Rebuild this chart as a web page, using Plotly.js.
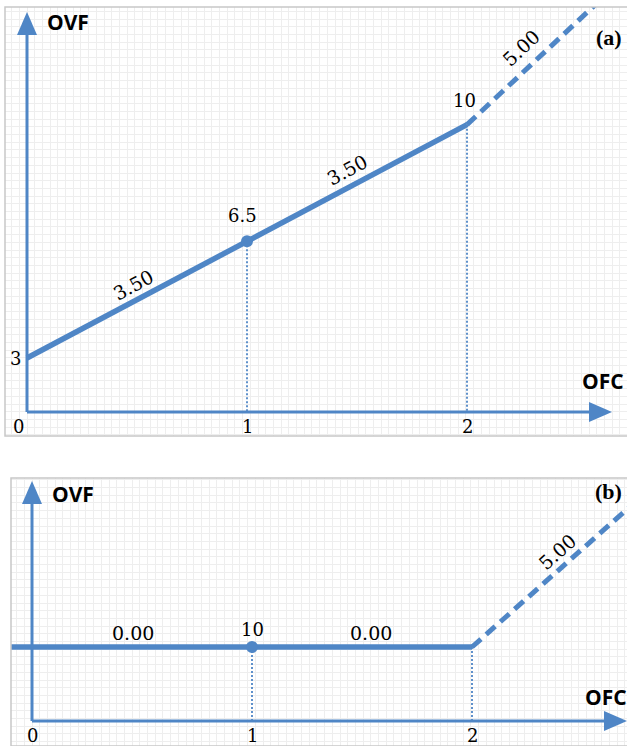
<!DOCTYPE html>
<html>
<head>
<meta charset="utf-8">
<script src="https://cdn.plot.ly/plotly-3.0.1.min.js"></script>
<style>
  html, body { margin: 0; padding: 0; background: #ffffff; }
  #chart { width: 627px; height: 746px; }
</style>
</head>
<body>
<div id="chart"></div>
<script>
// ---------------- DATA ----------------
// Panel (a)
const ofcA = [0, 1, 2];
const ovfA = [3, 6.5, 10];
const slopeLabelsA = ['3.50', '3.50'];
const ofcAext = [2, 2.75];
const ovfAext = [10, 14.63];
const extLabelA = '5.00';
// Panel (b)
const ofcB = [-0.1, 1, 2];
const ovfB = [10, 10, 10];
const slopeLabelsB = ['0.00', '0.00'];
const ofcBext = [2, 2.75];
const ovfBext = [10, 14.4];
const extLabelB = '5.00';
// Axis tick labels
const ofcTicks = [0, 1, 2];
const ofcTickLabels = ['0', '1', '2'];

// ---------------- STYLE ----------------
const W = 627, H = 746;
const BLUE = '#4f86c6';
const GRID = '#eeeeee';
const SERIF = 'DejaVu Serif, serif';
const SANS = 'Open Sans, Liberation Sans, sans-serif';
const PXX = 220;      // px per OFC unit
const PXY = 33.33;    // px per OVF unit
const NUM = 18;
const SLOPE = 19;

// panel geometry in pixels
const A = {left: 5, top: 7, bottom: 436, ox: 27, refY: 3, refPy: 358, baseP: 412, yTipP: 12, xTipP: 612,
  ofcLblX: 603, ofcLblShift: 31, ovfLblX: 45, ovfLblY: 22, pLblY: 37,
  slopeShift: [[-4, 15], [-10, 13]], extT: 0.406, extShift: [-13, 14]};
const B = {left: 11, top: 478, bottom: 746, ox: 32, refY: 10, refPy: 647, baseP: 721, yTipP: 481, xTipP: 627,
  ofcLblX: 606, ofcLblShift: 24, ovfLblX: 50, ovfLblY: 494, pLblY: 491,
  slopeShift: [[-9, 14], [9, 14]], extT: 0.575, extShift: [-10, 11]};

function xRange(p) { return [(p.left - p.ox) / PXX, (W - p.ox) / PXX]; }
function yOf(p, py) { return p.refY + (p.refPy - py) / PXY; }
function yRange(p) { return [yOf(p, p.bottom), yOf(p, p.top)]; }

function axisCfg(range, dtick, domain, anchor) {
  return {
    range: range, domain: domain, anchor: anchor,
    showgrid: true, gridcolor: GRID, gridwidth: 1,
    dtick: dtick, tick0: 0,
    showticklabels: false, ticks: '', zeroline: false, showline: false,
    fixedrange: true
  };
}

const traces = [];
const shapes = [];
const annotations = [];

function buildPanel(p, xr, yr, ofc, ovf, ofcExt, ovfExt, slopeLabels, extLabel, panelLabel, markIdx, isA) {
  const base = yOf(p, p.baseP);
  // dotted verticals
  for (let i = 1; i < ofc.length; i++) {
    if (ofc[i] <= 0) continue;
    traces.push({x: [ofc[i], ofc[i]], y: [ovf[i], base], mode: 'lines', xaxis: xr, yaxis: yr,
      line: {color: BLUE, width: 1.8, dash: '2px,2px'}, hoverinfo: 'skip', showlegend: false});
  }
  // main line
  traces.push({x: ofc, y: ovf, mode: 'lines', xaxis: xr, yaxis: yr,
    line: {color: BLUE, width: 5.5}, hoverinfo: 'skip', showlegend: false});
  // marker at middle point
  traces.push({x: [ofc[markIdx]], y: [ovf[markIdx]], mode: 'markers', xaxis: xr, yaxis: yr,
    marker: {color: BLUE, size: 12}, hoverinfo: 'skip', showlegend: false});
  // dashed extension
  traces.push({x: ofcExt, y: ovfExt, mode: 'lines', xaxis: xr, yaxis: yr,
    line: {color: BLUE, width: 5, dash: '12px,7px'}, hoverinfo: 'skip', showlegend: false});

  // panel border
  shapes.push({type: 'rect', xref: 'paper', yref: 'paper',
    x0: p.left / W, x1: 1.01, y0: 1 - p.bottom / H, y1: 1 - p.top / H,
    line: {color: '#c8c8c8', width: 1.5}, layer: 'above'});
  // axes lines
  const yTip = yOf(p, p.yTipP);
  const xTip = (p.xTipP - p.ox) / PXX;
  shapes.push({type: 'line', xref: xr, yref: yr, x0: 0, x1: 0, y0: base, y1: yOf(p, p.yTipP + 18),
    line: {color: BLUE, width: 3}});
  shapes.push({type: 'line', xref: xr, yref: yr, x0: 0, x1: (p.xTipP - 18 - p.ox) / PXX, y0: base, y1: base,
    line: {color: BLUE, width: 3}});
  // arrow heads
  shapes.push({type: 'path', xref: xr, yref: yr, xsizemode: 'pixel', ysizemode: 'pixel',
    xanchor: 0, yanchor: yTip, path: 'M0,0 L-10,-23 L10,-23 Z',
    fillcolor: BLUE, line: {color: BLUE, width: 0}});
  shapes.push({type: 'path', xref: xr, yref: yr, xsizemode: 'pixel', ysizemode: 'pixel',
    xanchor: xTip, yanchor: base, path: 'M0,0 L-23,10 L-23,-10 Z',
    fillcolor: BLUE, line: {color: BLUE, width: 0}});

  // axis titles
  annotations.push({xref: xr, yref: yr, x: (p.ovfLblX - p.ox) / PXX, y: yOf(p, p.ovfLblY), xanchor: 'left', yanchor: 'middle',
    text: '<b>OVF</b>', showarrow: false, font: {family: SANS, size: 21, color: '#000'}});
  annotations.push({xref: xr, yref: yr, x: (p.ofcLblX - p.ox) / PXX, y: base, yshift: p.ofcLblShift, xanchor: 'center', yanchor: 'middle',
    text: '<b>OFC</b>', showarrow: false, font: {family: SANS, size: 21, color: '#000'}});
  // panel label
  annotations.push({xref: 'paper', yref: 'paper', x: 1, y: 1 - p.pLblY / H, xshift: -3,
    xanchor: 'right', yanchor: 'middle', text: '<b>' + panelLabel + '</b>', showarrow: false,
    font: {family: 'Liberation Serif, serif', size: 22, color: '#000'}});
  // tick labels
  for (let i = 0; i < ofcTicks.length; i++) {
    annotations.push({xref: xr, yref: yr, x: ofcTicks[i], y: base, yshift: -14,
      xshift: i === 0 ? (isA ? -9 : 0) : 0, xanchor: 'center', yanchor: 'middle',
      text: ofcTickLabels[i], showarrow: false, font: {family: SERIF, size: 18, color: '#000'}});
  }
  // point labels
  if (isA) {
    annotations.push({xref: xr, yref: yr, x: ofc[0], y: ovf[0], xshift: -12, yshift: 0, xanchor: 'center', yanchor: 'middle',
      text: String(ovf[0]), showarrow: false, font: {family: SERIF, size: NUM, color: '#000'}});
  }
  annotations.push({xref: xr, yref: yr, x: ofc[markIdx], y: ovf[markIdx], xshift: isA ? -5 : 0, yshift: isA ? 26 : 18,
    xanchor: 'center', yanchor: 'middle', text: String(ovf[markIdx]), showarrow: false,
    font: {family: SERIF, size: NUM, color: '#000'}});
  if (isA) {
    annotations.push({xref: xr, yref: yr, x: ofc[2], y: ovf[2], xshift: -3, yshift: 24,
      xanchor: 'center', yanchor: 'middle', text: String(ovf[2]), showarrow: false,
      font: {family: SERIF, size: NUM, color: '#000'}});
  }
  // slope labels along segments
  const segs = [[0, 1], [1, 2]];
  segs.forEach(function (s, k) {
    const x0 = Math.max(ofc[s[0]], 0), x1 = ofc[s[1]];
    const y0 = ovf[s[0]], y1 = ovf[s[1]];
    const mx = (x0 + x1) / 2, my = (y0 + y1) / 2;
    const ang = Math.atan2((y1 - y0) * PXY, (x1 - x0) * PXX) * 180 / Math.PI;
    annotations.push({xref: xr, yref: yr, x: mx, y: my, xshift: p.slopeShift[k][0], yshift: p.slopeShift[k][1],
      xanchor: 'center', yanchor: 'middle', textangle: -ang, text: slopeLabels[k], showarrow: false,
      font: {family: SERIF, size: SLOPE, color: '#000'}});
  });
  // extension label
  {
    const dx = ofcExt[1] - ofcExt[0], dy = ovfExt[1] - ovfExt[0];
    const ang = Math.atan2(dy * PXY, dx * PXX) * 180 / Math.PI;
    annotations.push({xref: xr, yref: yr, x: ofcExt[0] + dx * p.extT, y: ovfExt[0] + dy * p.extT,
      xshift: p.extShift[0], yshift: p.extShift[1],
      xanchor: 'center', yanchor: 'middle', textangle: -ang, text: extLabel, showarrow: false,
      font: {family: SERIF, size: SLOPE, color: '#000'}});
  }
}

buildPanel(A, 'x', 'y', ofcA, ovfA, ofcAext, ovfAext, slopeLabelsA, extLabelA, '(a)', 1, true);
buildPanel(B, 'x2', 'y2', ofcB, ovfB, ofcBext, ovfBext, slopeLabelsB, extLabelB, '(b)', 1, false);

const layout = {
  width: W, height: H,
  margin: {l: 0, r: 0, t: 0, b: 0, pad: 0},
  paper_bgcolor: '#ffffff', plot_bgcolor: '#ffffff',
  showlegend: false,
  xaxis: axisCfg(xRange(A), 7.7 / PXX, [A.left / W, 1], 'y'),
  yaxis: axisCfg(yRange(A), 7.7 / PXY, [1 - A.bottom / H, 1 - A.top / H], 'x'),
  xaxis2: axisCfg(xRange(B), 7.7 / PXX, [B.left / W, 1], 'y2'),
  yaxis2: axisCfg(yRange(B), 7.7 / PXY, [0, 1 - B.top / H], 'x2'),
  shapes: shapes,
  annotations: annotations
};

Plotly.newPlot('chart', traces, layout, {displayModeBar: false, staticPlot: true});
</script>
</body>
</html>
